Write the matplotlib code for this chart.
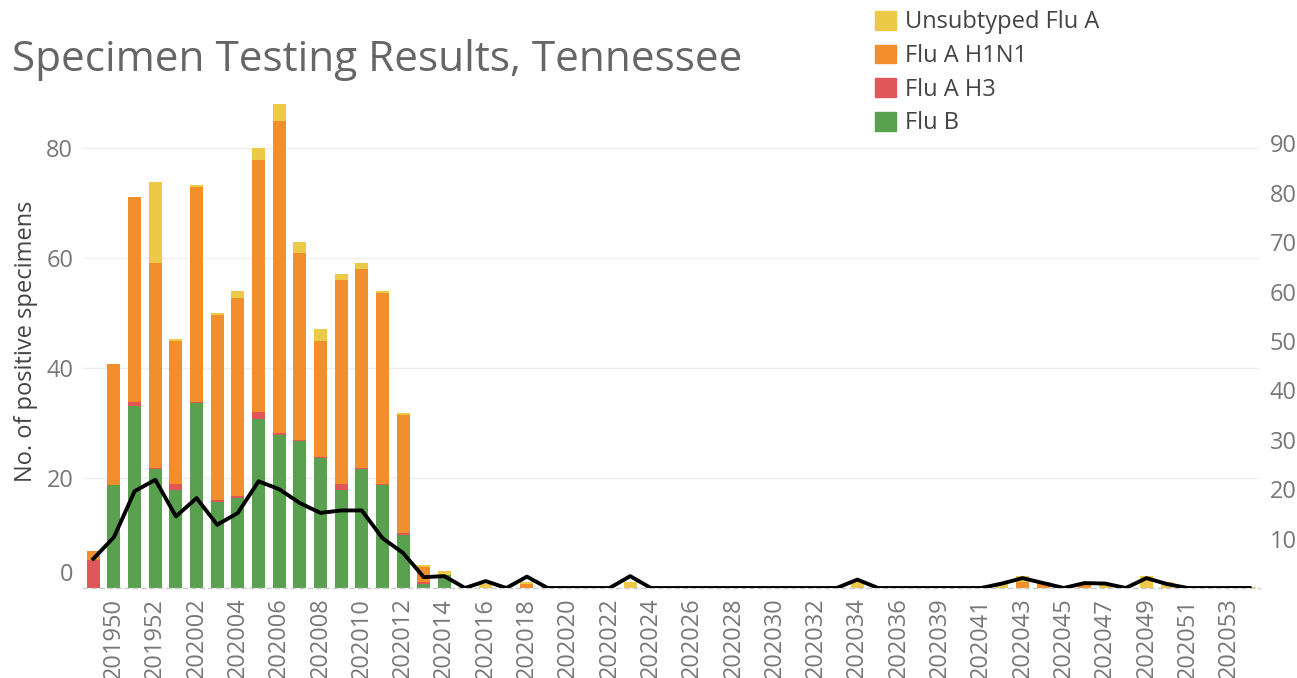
import matplotlib
matplotlib.use("Agg")
import matplotlib.pyplot as plt
import matplotlib.transforms as mtransforms
from matplotlib.patches import Patch
import numpy as np

weeks = [
    "201949", "201950", "201951", "201952",
    "202001", "202002", "202003", "202004", "202005", "202006", "202007", "202008",
    "202009", "202010", "202011", "202012", "202013", "202014", "202015", "202016",
    "202017", "202018", "202019", "202020", "202021", "202022", "202023", "202024",
    "202025", "202026", "202027", "202028", "202029", "202030", "202031", "202032",
    "202033", "202034", "202035", "202036", "202037", "202039", "202040", "202041",
    "202042", "202043", "202044", "202045", "202046", "202047", "202048", "202049",
    "202050", "202051", "202052", "202053", "202101",
]

flu_b = [
    0, 18.7, 33, 21.6, 17.9, 33.6, 15.7, 16.4, 30.8, 27.8, 26.7, 23.7,
    17.9, 21.6, 18.7, 9.7, 0.7, 2.45, 0, 0, 0, 0, 0, 0, 0, 0, 0, 0,
    0, 0, 0, 0, 0, 0, 0, 0, 0, 0, 0, 0, 0, 0, 0, 0,
    0, 0, 0, 0, 0, 0, 0, 0, 0, 0, 0, 0, 0,
]
flu_a_h3 = [
    5.0, 0, 0.9, 0.25, 1.0, 0.3, 0.3, 0.3, 1.15, 0.35, 0.25, 0.2,
    1.0, 0.25, 0.2, 0.3, 0.4, 0, 0, 0, 0, 0, 0, 0, 0, 0, 0, 0,
    0, 0, 0, 0, 0, 0, 0, 0, 0, 0, 0, 0, 0, 0, 0, 0,
    0, 0, 0, 0, 0, 0, 0, 0, 0, 0, 0, 0, 0,
]
flu_a_h1n1 = [
    1.8, 22, 37.1, 37.2, 26, 39, 33.6, 36.1, 45.9, 56.7, 34.0, 21.0,
    37.0, 36.1, 34.7, 21.5, 2.8, 0, 0, 0, 0, 0.75, 0, 0, 0, 0, 0, 0,
    0, 0, 0, 0, 0, 0, 0, 0, 0, 0, 0, 0, 0, 0, 0, 0,
    0, 1.1, 1.0, 0, 0.9, 0, 0, 0, 0, 0, 0, 0, 0,
]
unsubtyped = [
    0, 0, 0, 14.8, 0.3, 0.4, 0.4, 1.1, 2.2, 3.1, 2.0, 2.2,
    1.1, 1.1, 0.4, 0.4, 0.3, 0.55, 0.3, 0.8, 0, 0.3, 0.2, 0, 0, 0, 1.05, 0,
    0, 0, 0, 0, 0, 0, 0, 0, 0, 1.2, 0, 0, 0, 0, 0, 0,
    0.8, 1.0, 0, 0, 0, 0.9, 0, 2.1, 1.0, 0, 0, 0, 0.15,
]
pct_positive = [
    5.9, 10.3, 19.6, 21.9, 14.5, 18.2, 12.8, 15.2, 21.6, 20.0, 17.2, 15.2,
    15.7, 15.7, 10.1, 7.1, 2.2, 2.4, 0, 1.4, 0, 2.3, 0, 0, 0, 0, 2.4, 0,
    0, 0, 0, 0, 0, 0, 0, 0, 0, 1.7, 0, 0, 0, 0, 0, 0,
    0.9, 2.0, 1.0, 0, 1.0, 0.9, 0, 2.0, 0.8, 0, 0, 0, 0,
]

colors = {
    "Flu B": "#59A14F",
    "Flu A H3": "#E15759",
    "Flu A H1N1": "#F28E2B",
    "Unsubtyped Flu A": "#EDC948",
}

plt.rcParams["font.family"] = ["Open Sans", "DejaVu Sans"]

W, H = 1297, 678
fig = plt.figure(figsize=(W / 100, H / 100), dpi=100)
left, right, bottom, top = 83, 1260, 588, 94
ax = fig.add_axes([left / W, (H - bottom) / H, (right - left) / W, (bottom - top) / H])

x = np.arange(len(weeks))
b = np.array(flu_b)
h3 = np.array(flu_a_h3)
h1 = np.array(flu_a_h1n1)
un = np.array(unsubtyped)
width = 0.63
ax.bar(x, b, width, color=colors["Flu B"], zorder=2)
ax.bar(x, h3, width, bottom=b, color=colors["Flu A H3"], zorder=2)
ax.bar(x, h1, width, bottom=b + h3, color=colors["Flu A H1N1"], zorder=2)
ax.bar(x, un, width, bottom=b + h3 + h1, color=colors["Unsubtyped Flu A"], zorder=2)

ax.set_xlim(-0.5, len(weeks) - 0.5)
ax.set_ylim(0, 89.8)
ax.set_yticks([0, 20, 40, 60, 80])
ax.grid(axis="y", color="#eeeeee", linewidth=1, zorder=0)
ax.set_axisbelow(True)
for s in ["top", "right", "left"]:
    ax.spines[s].set_visible(False)
ax.spines["bottom"].set_color("#cccccc")
ax.spines["bottom"].set_linestyle((0, (3, 3)))
ax.spines["bottom"].set_linewidth(1)

ax.set_xticks(x[1::2])
ax.set_xticklabels(weeks[1::2], rotation=90)
ax.tick_params(axis="x", length=0, pad=7, labelsize=17, labelcolor="#777777")
ax.tick_params(axis="y", length=0, pad=7, labelsize=17, labelcolor="#777777")
# the zero label sits a little higher than its gridline
for lbl in ax.get_yticklabels():
    if lbl.get_text() == "0":
        lbl.set_transform(lbl.get_transform() + mtransforms.ScaledTranslation(0, 0.16, fig.dpi_scale_trans))
ax.set_ylabel("No. of positive specimens", fontsize=17, color="#444444")
ax.yaxis.set_label_coords(-0.038, 0.5)

ax2 = ax.twinx()
ax2.plot(x, pct_positive, color="black", linewidth=2.8, zorder=3)
ax2.set_ylim(0, 100)
ax2.set_yticks([10, 20, 30, 40, 50, 60, 70, 80, 90])
ax2.tick_params(axis="y", length=0, pad=7, labelsize=17, labelcolor="#777777")
for s in ["top", "right", "left", "bottom"]:
    ax2.spines[s].set_visible(False)

fig.text(12 / W, 1 - 71 / H, "Specimen Testing Results, Tennessee", fontsize=30.4,
         color="#666666", va="baseline", ha="left")

handles = [Patch(color=colors[k]) for k in ["Unsubtyped Flu A", "Flu A H1N1", "Flu A H3", "Flu B"]]
labels = ["Unsubtyped Flu A", "Flu A H1N1", "Flu A H3", "Flu B"]
fig.legend(handles, labels, loc="upper left", bbox_to_anchor=(866 / W, 1 - 1 / H),
           frameon=False, fontsize=17, labelcolor="#444444", handlelength=0.85,
           handleheight=0.85, handletextpad=0.4, labelspacing=0.41, borderaxespad=0)

fig.savefig("out.png", dpi=100)
